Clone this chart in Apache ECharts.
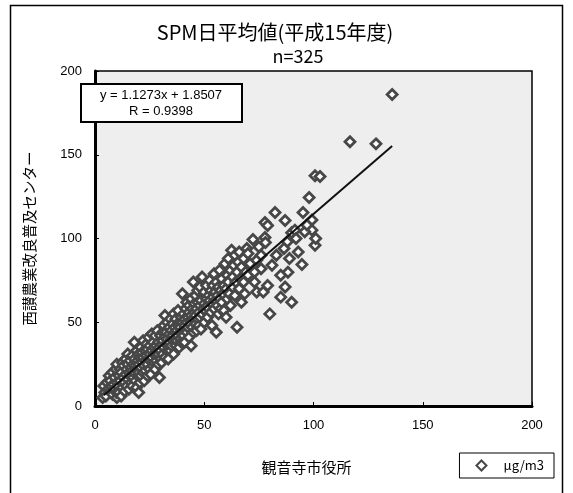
<!DOCTYPE html>
<html>
<head>
<meta charset="utf-8">
<script src="https://cdn.jsdelivr.net/npm/echarts@6/dist/echarts.min.js"></script>
<style>
html,body{margin:0;padding:0;background:#fff;}
#chart{width:573px;height:493px;}
</style>
</head>
<body>
<div id="chart"></div>
<script>
const titleText = 'SPM日平均値(平成15年度)';
const subtitleText = 'n=325';
const xAxisName = '観音寺市役所';
const yAxisName = '西讃農業改良普及センター';
const seriesName = 'μg/m3';
const slope = 1.1273;
const intercept = 1.8507;
const rValue = 0.9398;
const trendRange = [4, 136];
const axisTicks = [0, 50, 100, 150, 200];

const bin0 = [[3.5,5],[4,12],[4.5,8],[5,6],[5.5,14],[6,10],[6.5,18],[7,9],[7,15],[7.5,12],[8,7],[8,20],[8.5,13],[9,17],[9,10],[9.5,22],[10,5],[10,14],[10,25],[9.8,8]];
const bin1 = [[10.5,12],[11,18],[11,8],[11.5,22],[11.5,15],[12,6],[12,20],[12.5,26],[12.5,11],[13,17],[13,24],[13.5,14],[13.5,9],[14,19],[14,28],[14.5,22],[14.5,12],[15,16],[15,25],[15,31],[15.5,20],[15.5,10],[16,18],[16,27],[16.5,23],[16.5,14],[17,21],[17,30],[17,12],[17.5,25],[17.5,17],[18,38],[18,20],[18,28],[18.5,15],[18.5,24],[19,22],[19,33],[19,11],[19.5,27],[19.5,18],[20,8],[20,25],[20,31],[20,20]];
const bin2 = [[20.5,14],[20.5,29],[21,23],[21,35],[21,18],[21.5,26],[21.5,32],[22,20],[22,29],[22,39],[22.5,24],[22.5,15],[23,33],[23,27],[23,21],[23.5,30],[23.5,37],[24,25],[24,18],[24,34],[24.5,28],[24.5,41],[25,22],[25,31],[25,36],[25.5,27],[25.5,19],[26,33],[26,43],[26,29],[26.5,24],[26.5,38],[27,31],[27,26],[27,35],[27.5,42],[27.5,22],[28,30],[28,36],[28,27],[28.5,45],[28.5,33],[29,25],[29,38],[29,31],[29.5,35],[29.5,17],[30,28],[30,42],[30,33]];
const bin3 = [[30.5,37],[30.5,26],[31,31],[31,44],[31,39],[31.5,35],[31.5,48],[32,29],[32,41],[32,54],[32.5,37],[32.5,44],[33,33],[33,40],[33,50],[33.5,36],[33.5,28],[34,43],[34,47],[34,38],[34.5,52],[34.5,33],[35,40],[35,45],[35,36],[35.5,49],[35.5,42],[36,31],[36,39],[36,55],[36.5,44],[36.5,47],[37,41],[37,36],[37,52],[37.5,45],[37.5,39],[38,48],[38,42],[38,57],[38.5,35],[38.5,50],[39,44],[39,47],[39,40],[39.5,53],[39.5,38],[40,67],[40,45],[40,50]];
const bin4 = [[40.5,42],[40.5,55],[41,48],[41,52],[41,38],[41.5,58],[41.5,45],[42,50],[42,44],[42,62],[42.5,53],[42.5,47],[43,56],[43,41],[43,60],[43.5,51],[43.5,49],[44,36],[44,54],[44,64],[44.5,47],[44.5,58],[45,52],[45,74],[45,44],[45.5,56],[45.5,61],[46,49],[46,54],[46,66],[46.5,45],[46.5,58],[47,52],[47,69],[47,62],[47.5,48],[47.5,56],[48,60],[48,53],[48,71],[48.5,46],[48.5,63],[49,77],[49,55],[49.5,58]];
const bin5 = [[50,50],[50,61],[50,68],[50.5,57],[51,64],[51,72],[51.5,53],[51.5,60],[52,66],[52,58],[52.5,75],[52.5,63],[53,56],[53,69],[53.5,61],[53.5,48],[54,65],[54,72],[54.5,58],[54.5,79],[55,63],[55,68],[55.5,44],[55.5,74],[56,60],[56,66],[56.5,71],[56.5,55],[57,64],[57,81],[57.5,69],[57.5,58],[58,76],[58,62],[58.5,67],[59,72],[59,57],[59.5,85],[60,53],[60,70]];
const bin6 = [[60.5,64],[60.5,78],[61,74],[61,88],[61.5,67],[62,81],[62,60],[62.5,93],[63,71],[63,77],[63.5,84],[64,66],[64,90],[64.5,74],[65,47],[65,80],[65.5,86],[66,70],[66,92],[66.5,76],[67,83],[67,62],[68,88],[68,74],[68.5,67],[69,80],[69.5,94],[70,78]];
const bin7 = [[70,91],[71,85],[72.3,99.4],[73,74],[74,87],[74,68],[75,95],[76,82],[77,68],[77.8,109.5],[77.8,100.6],[78,97.6],[79,107.7],[79,72],[80,55],[76,90],[73,80]];
const bin8 = [[82.4,115.5],[87,110.7],[88,98],[86.5,94],[88.3,79.8],[87,71],[85,65],[90,62],[90,103.5],[81,84],[83,90],[85,78],[89,88]];
const bin9 = [[91.5,105],[94.7,84.5],[95.2,115.5],[98,124.5],[99.3,111],[99.3,105],[100.7,96],[100.7,137.5],[103,137],[92,100],[96,104],[93,92],[97,108],[101,100]];
const bin10 = [[116.7,157.7],[128.6,156.5],[136,186]];

const points = [].concat(bin0,bin1,bin2,bin3,bin4,bin5,bin6,bin7,bin8,bin9,bin10);
const trendData = trendRange.map(x => [x, slope * x + intercept]);

const chart = echarts.init(document.getElementById('chart'), null, {renderer:'canvas'});
const cjk = '"Noto Sans CJK JP", sans-serif';
const num = '"Liberation Sans", Arial, sans-serif';

chart.setOption({
  animation: false,
  backgroundColor: '#ffffff',
  title: [
    {text: titleText, left: 270, top: 17, textAlign: 'center',
     textStyle: {fontFamily: cjk, fontSize: 20, fontWeight: 'normal', color: '#000'}},
    {text: subtitleText, left: 293, top: 42, textAlign: 'center',
     textStyle: {fontFamily: cjk, fontSize: 18, fontWeight: 'normal', color: '#000'}}
  ],
  grid: {left: 95, right: 41, top: 71, bottom: 87, show: true,
         backgroundColor: '#eeeeee', borderColor: '#000', borderWidth: 1.5},
  legend: {
    data: [seriesName], right: 19, bottom: 15, orient: 'horizontal',
    borderColor: '#000', borderWidth: 1, padding: [6, 10, 6, 16],
    itemWidth: 10, itemHeight: 10, itemGap: 10,
    textStyle: {fontFamily: cjk, fontSize: 13, color: '#000', padding: [0,0,0,12]}
  },
  xAxis: {
    type: 'value', min: 0, max: 200, interval: 50,
    name: xAxisName, nameLocation: 'middle', nameGap: 54,
    nameTextStyle: {fontFamily: cjk, fontSize: 15, color: '#000', padding: [0, 14, 0, 0]},
    axisLine: {show: true, onZero: false, lineStyle: {color: '#000', width: 3}},
    axisTick: {show: true, inside: true, length: 4, lineStyle: {color: '#000', width: 1}},
    axisLabel: {fontFamily: num, fontSize: 13, color: '#000', margin: 13},
    splitLine: {show: false}
  },
  yAxis: {
    type: 'value', min: 0, max: 200, interval: 50,
    name: yAxisName, nameLocation: 'middle', nameGap: 58, nameRotate: 90,
    nameTextStyle: {fontFamily: cjk, fontSize: 14.5, color: '#000'},
    axisLine: {show: true, onZero: false, lineStyle: {color: '#000', width: 3}},
    axisTick: {show: true, inside: true, length: 4, lineStyle: {color: '#000', width: 1}},
    axisLabel: {fontFamily: num, fontSize: 13, color: '#000', margin: 13},
    splitLine: {show: false}
  },
  series: [
    {
      name: seriesName, type: 'scatter', data: points,
      symbol: 'diamond', symbolSize: 10,
      itemStyle: {color: '#ffffff', borderColor: '#474747', borderWidth: 2.8, opacity: 1},
      z: 2
    },
    {
      name: 'trend', type: 'line', data: trendData, showSymbol: false,
      symbol: 'none', lineStyle: {color: '#111', width: 2}, z: 3, silent: true
    }
  ],
  graphic: [
    {type: 'rect', shape: {x: 10.5, y: 5.5, width: 552, height: 520},
     style: {fill: null, stroke: '#000', lineWidth: 1.5}, silent: true, z: 0},
    {type: 'rect', shape: {x: 81, y: 84, width: 161, height: 38},
     style: {fill: '#fff', stroke: '#000', lineWidth: 2}, z: 10},
    {type: 'text', x: 161, y: 95, style: {text: 'y = ' + slope + 'x + ' + intercept,
     textAlign: 'center', textVerticalAlign: 'middle', font: '13px "Liberation Sans", Arial, sans-serif', fill: '#000'}, z: 11},
    {type: 'text', x: 161, y: 111, style: {text: 'R = ' + rValue,
     textAlign: 'center', textVerticalAlign: 'middle', font: '13px "Liberation Sans", Arial, sans-serif', fill: '#000'}, z: 11}
  ]
});
</script>
</body>
</html>
